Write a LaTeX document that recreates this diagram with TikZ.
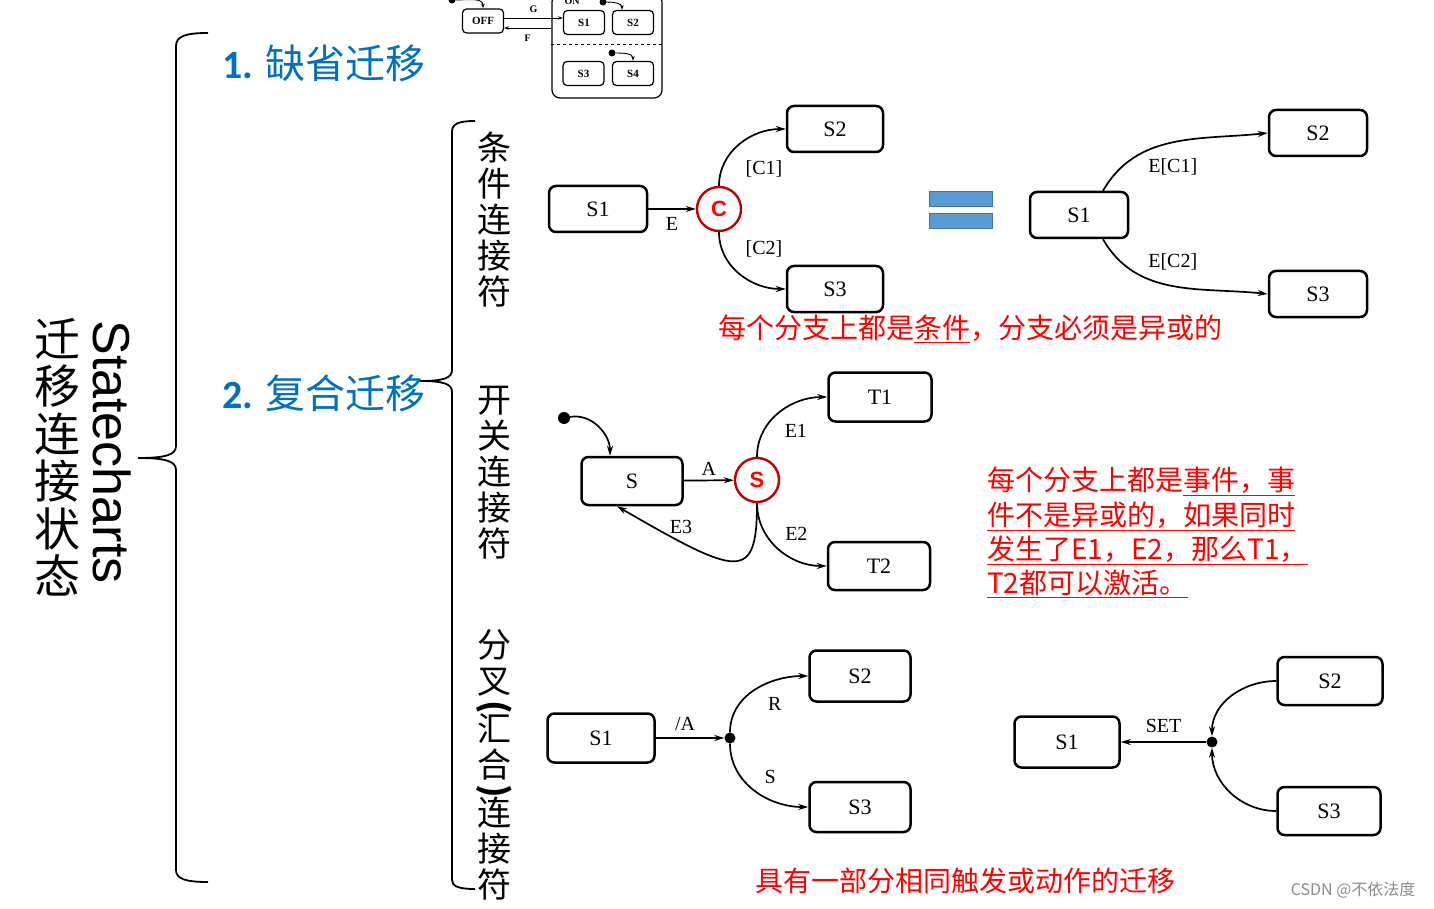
\documentclass[tikz,border=0pt]{standalone}
\usepackage{fontspec}
\setmainfont{Liberation Serif}
\newfontfamily\cjk{Noto Sans CJK SC}
\newfontfamily\arialfont{Liberation Sans}
\newfontfamily\calibri{Carlito}
\usepackage{xcolor}
\definecolor{titleblue}{RGB}{0,112,192}
\definecolor{connred}{RGB}{192,0,0}
\definecolor{eqblue}{RGB}{91,155,213}
\definecolor{eqedge}{RGB}{65,113,156}
\usetikzlibrary{positioning, arrows.meta, calc}
\newcommand{\vparen}[1]{\rotatebox[origin=c]{-90}{\bfseries #1}}

\begin{document}
\begin{tikzpicture}[x=1pt, y=1pt,
  state/.style={draw, rounded corners=7pt, line width=2.5pt,
                minimum width=98pt, minimum height=46pt,
                font=\fontsize{22}{22}\selectfont},
  tiny/.style={draw, rounded corners=4pt, line width=1.2pt,
               minimum width=41pt, minimum height=24pt, inner sep=0pt,
               font=\bfseries\fontsize{11}{11}\selectfont},
  conn/.style={circle, draw=connred, line width=2.4pt, fill=white,
               minimum size=44pt, inner sep=0pt, text=red,
               font=\arialfont\bfseries\fontsize{22}{22}\selectfont},
  dot/.style={circle, fill=black, minimum size=11pt, inner sep=0pt},
  tinydot/.style={circle, fill=black, minimum size=7pt, inner sep=0pt},
  arr/.style={-{Stealth[length=10pt, width=6pt]}, line width=1.7pt},
  tinyarr/.style={-{Stealth[length=5pt, width=3.5pt]}, line width=0.9pt},
  lbl/.style={font=\fontsize{20}{20}\selectfont},
  tinylbl/.style={font=\bfseries\fontsize{10}{10}\selectfont},
  note/.style={text=red, font=\cjk\fontsize{28}{28}\selectfont, inner sep=0pt},
  eqbar/.style={fill=eqblue, draw=eqedge, line width=1pt,
                minimum width=63pt, minimum height=15pt, inner sep=0pt},
  brace/.style={line width=1.8pt},
]
  \path[use as bounding box, fill=white] (0,0) rectangle (1434,-909);

  \node[font=\cjk\fontsize{46}{47.5}\selectfont, align=center] (vtitle) at (57,-457) {迁\\移\\连\\接\\状\\态};
  \node[rotate=-90, font=\arialfont\fontsize{52}{52}\selectfont] (entitle) at (112,-452) {Statecharts};

  \draw[brace] (208,-33) .. controls (186,-33) and (176,-36) .. (176,-46) -- (176,-446)
    .. controls (176,-455) and (165,-458) .. (138,-458) .. controls (165,-458) and (176,-461) .. (176,-470)
    -- (176,-870) .. controls (176,-879) and (186,-882) .. (208,-882);
  \draw[brace] (475,-121) .. controls (458,-121) and (452,-124) .. (452,-132) -- (452,-370)
    .. controls (452,-378) and (444,-381) .. (420,-381) .. controls (444,-381) and (452,-384) .. (452,-392)
    -- (452,-880) .. controls (452,-886) and (458,-889) .. (475,-889);

  \node[anchor=west, text=titleblue, font=\cjk\fontsize{40}{40}\selectfont, inner sep=0pt] (deftitle) at (222,-63) {{\calibri\bfseries 1.} 缺省迁移};
  \node[anchor=west, text=titleblue, font=\cjk\fontsize{40}{40}\selectfont, inner sep=0pt] (comptitle) at (222,-393) {{\calibri\bfseries 2.} 复合迁移};

  \node[font=\cjk\fontsize{34}{36}\selectfont, align=center] (col1) at (494,-220) {条\\件\\连\\接\\符};
  \node[font=\cjk\fontsize{34}{36}\selectfont, align=center] (col2) at (494,-473) {开\\关\\连\\接\\符};
  \node[font=\cjk\fontsize{34}{36}\selectfont, align=center] (col3) at (494,-765) {分\\叉\\[-12pt]\vparen{(}\\[-12pt]汇\\合\\[-12pt]\vparen{)}\\[-12pt]连\\接\\符};

  \node[draw, rounded corners=8pt, line width=1.2pt, minimum width=110pt, minimum height=104pt] (onbox) at (607,-46) {};
  \node[tinylbl] (onlbl) at (572,-1) {ON};
  \draw[dashed, line width=1pt] (onbox.west |- 0,-45) -- (onbox.east |- 0,-45);
  \node[tiny] (off) at (483,-21) {OFF};
  \node[tiny] (on1) at (584,-22.5) {S1};
  \node[tiny] (on2) at (633,-22.5) {S2};
  \node[tiny] (on3) at (583.5,-73.5) {S3};
  \node[tiny] (on4) at (633,-73.5) {S4};
  \node[tinydot] (ini0) at (452,0) {};
  \node[tinydot] (ini2) at (603,-2) {};
  \node[tinydot] (ini4) at (612,-53) {};
  \draw[tinyarr] (ini0) to[out=0, in=90] (off.north);
  \draw[tinyarr] (ini2) to[out=0, in=90] ([xshift=-11pt]on2.north);
  \draw[tinyarr] (ini4) to[out=0, in=90] (on4.north);
  \draw[tinyarr] ([yshift=3pt]off.east) -- node[tinylbl, above=2pt] {G} ([yshift=3pt]off.east -| on1.west);
  \draw[tinyarr] ([yshift=-7pt]off.east -| onbox.west) -- node[tinylbl, below=3pt] {F} ([yshift=-7pt]off.east);

  \node[state] (s1) at (598,-209) {S1};
  \node[conn] (cc) at (719,-209) {C};
  \node[state, minimum width=96pt] (s2) at (835,-129) {S2};
  \node[state, minimum width=96pt] (s3) at (835,-289) {S3};
  \draw[arr] (s1) -- node[lbl, below, yshift=-4pt] {E} (cc);
  \draw[arr] (cc.north) to[out=90, in=180] node[lbl, pos=0.5, anchor=north west, shift={(2,-12)}] {[C1]} (s2.west);
  \draw[arr] (cc.south) to[out=-90, in=180] node[lbl, pos=0.5, anchor=south west, shift={(2,12)}] {[C2]} (s3.west);

  \node[eqbar] (eqtop) at (960.5,-199.5) {};
  \node[eqbar] (eqbot) at (960.5,-221) {};

  \node[state] (r1) at (1079,-215) {S1};
  \node[state] (r2) at (1318,-133) {S2};
  \node[state] (r3) at (1318,-294) {S3};
  \draw[arr] ([xshift=24pt]r1.north) to[out=60, in=186] node[lbl, pos=0.5, anchor=north, yshift=-12pt] {E[C1]} (r2.west);
  \draw[arr] ([xshift=24pt]r1.south) to[out=-60, in=174] node[lbl, pos=0.5, anchor=south, yshift=12pt] {E[C2]} (r3.west);

  \node[note, anchor=west] (note1) at (718,-329) {每个分支上都是\underline{条件}，分支必须是异或的};

  \node[dot, minimum size=12pt] (init) at (564,-418) {};
  \node[state, minimum width=101pt, minimum height=48pt] (s) at (632,-481) {S};
  \node[conn] (sc) at (757,-480) {S};
  \node[state, minimum width=103pt, minimum height=49pt] (t1) at (880,-397) {T1};
  \node[state, minimum width=102pt, minimum height=48pt] (t2) at (879,-566) {T2};
  \draw[arr] (init) to[out=10, in=90] ([xshift=-22pt]s.north);
  \draw[arr] (s) -- node[lbl, above, yshift=1pt] {A} (sc);
  \draw[arr] (sc.north) to[out=90, in=180] node[lbl, pos=0.5, anchor=north west, shift={(2,-7)}] {E1} (t1.west);
  \draw[arr] (sc.south) to[out=-90, in=180] node[lbl, pos=0.5, anchor=south west, shift={(3,4)}] {E2} (t2.west);
  \draw[arr] (sc.south) to[out=-90, in=-30, out distance=80pt, in distance=140pt] node[lbl, pos=0.75, anchor=south, shift={(-9,9)}] {E3} ([xshift=-15pt]s.south);

  \node[note, anchor=west] (para1) at (987,-481) {每个分支上都是\underline{事件，事}};
  \node[note, anchor=west] (para2) at (987,-516) {\underline{件不是异或的，如果同时}};
  \node[note, anchor=west] (para3) at (987,-550) {\underline{发生了E1，E2，那么T1，}};
  \node[note, anchor=west] (para4) at (987,-584) {\underline{T2都可以激活。}};

  \node[state, minimum width=107pt, minimum height=49pt] (f1) at (601,-738) {S1};
  \node[dot] (fork) at (730,-738) {};
  \node[state, minimum width=101pt, minimum height=51pt] (f2) at (860,-676) {S2};
  \node[state, minimum width=101pt, minimum height=50pt] (f3) at (860,-807) {S3};
  \draw[arr] (f1) -- node[lbl, above, shift={(-5,3)}] {/A} (fork);
  \draw[arr] (fork) to[out=90, in=180] node[lbl, pos=0.5, anchor=north west, shift={(9,-3)}] {R} (f2.west);
  \draw[arr] (fork) to[out=-90, in=180] node[lbl, pos=0.5, anchor=south west, shift={(6,2)}] {S} (f3.west);

  \node[state, minimum width=105pt, minimum height=51pt] (j1) at (1067,-742) {S1};
  \node[dot] (join) at (1212,-742) {};
  \node[state, minimum width=105pt, minimum height=48pt] (j2) at (1330,-681) {S2};
  \node[state, minimum width=103pt, minimum height=48pt] (j3) at (1329,-811) {S3};
  \draw[arr] (join) -- node[lbl, above, yshift=5pt] {SET} (j1);
  \draw[arr] (j2.west) to[out=180, in=90] (join);
  \draw[arr] (j3.west) to[out=180, in=-90] (join);

  \node[note, anchor=west] (note3) at (755,-881) {具有一部分相同触发或动作的迁移};
  \node[anchor=east, text=black!45, font=\cjk\fontsize{16}{16}\selectfont] (mark) at (1419,-890) {CSDN @不依法度};
\end{tikzpicture}
\end{document}
